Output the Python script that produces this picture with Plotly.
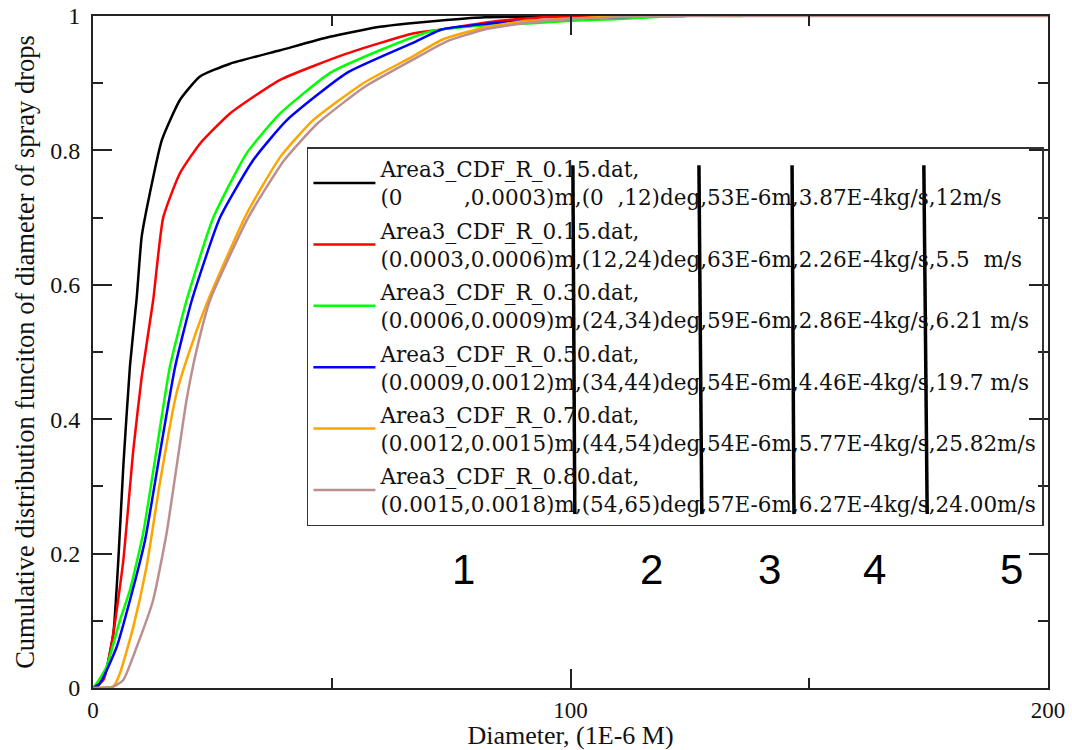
import plotly.graph_objects as go

# Cumulative distribution of spray drop diameter (1E-6 m) for six injection bins
d_black = [0, 1, 2.5, 4.25, 5.3, 6.35, 7.75, 9.15, 10.2, 11.9, 14.4, 18.2, 22.4, 28.7, 39.2, 49.6, 60.1, 66, 74, 82, 90, 100, 111]
f_black = [0, 0.003, 0.02, 0.08, 0.19, 0.33, 0.48, 0.58, 0.672, 0.736, 0.815, 0.875, 0.91, 0.929, 0.949, 0.969, 0.984, 0.989, 0.994, 0.998, 0.999, 1.0, 1.0]

d_red = [0, 2.2, 4.25, 6.35, 8.44, 10.2, 12.6, 14.7, 18.2, 22.4, 28.7, 39.2, 53.1, 67, 73, 82, 90, 100, 105]
f_red = [0, 0.012, 0.081, 0.19, 0.354, 0.463, 0.577, 0.70, 0.766, 0.81, 0.855, 0.905, 0.944, 0.974, 0.98, 0.99, 0.996, 1.0, 1.0]

d_green = [0, 0.77, 2.86, 5.65, 7.75, 10.5, 13.3, 16.1, 19.6, 25.2, 32.2, 39.2, 49.6, 60.1, 70.6, 80, 88.4, 93.6, 100, 108.9, 122, 136]
f_green = [0, 0.007, 0.032, 0.101, 0.146, 0.23, 0.354, 0.478, 0.577, 0.70, 0.796, 0.855, 0.915, 0.949, 0.977, 0.985, 0.988, 0.99, 0.993, 0.995, 1.0, 1.0]

d_blue = [0, 1.47, 4.96, 7.75, 10.9, 14, 17.2, 20.7, 26.6, 33.6, 40.6, 53.1, 67, 73, 82, 92, 105, 118, 124]
f_blue = [0, 0.007, 0.061, 0.131, 0.22, 0.349, 0.478, 0.577, 0.70, 0.786, 0.845, 0.915, 0.96, 0.98, 0.988, 0.993, 0.997, 1.0, 1.0]

d_orange = [0, 4.25, 5.65, 8.44, 11.2, 14, 17.5, 20.3, 24.1, 32.2, 39.2, 46.1, 56.6, 67, 73.2, 82, 91, 100, 111, 121]
f_orange = [0, 0.002, 0.022, 0.091, 0.18, 0.305, 0.439, 0.503, 0.577, 0.706, 0.79, 0.845, 0.90, 0.94, 0.965, 0.983, 0.993, 0.996, 1.0, 1.0]

d_brown = [0, 4.25, 6.35, 9.15, 12.6, 15.4, 17.5, 19.6, 21.7, 24.5, 32.5, 40, 47, 57, 67, 74, 82, 91, 100, 110, 125, 200]
f_brown = [0, 0.002, 0.012, 0.061, 0.131, 0.23, 0.329, 0.429, 0.503, 0.577, 0.70, 0.785, 0.84, 0.895, 0.935, 0.962, 0.98, 0.99, 0.995, 0.998, 1.0, 1.0]

NB = "\u00a0"
series_names = [
    "Area3_CDF_R_0.15.dat,<br>(0" + NB * 9 + ",0.0003)m,(0" + NB * 2 + ",12)deg,53E-6m,3.87E-4kg/s,12m/s",
    "Area3_CDF_R_0.15.dat,<br>(0.0003,0.0006)m,(12,24)deg,63E-6m,2.26E-4kg/s,5.5" + NB * 2 + "m/s",
    "Area3_CDF_R_0.30.dat,<br>(0.0006,0.0009)m,(24,34)deg,59E-6m,2.86E-4kg/s,6.21" + NB + "m/s",
    "Area3_CDF_R_0.50.dat,<br>(0.0009,0.0012)m,(34,44)deg,54E-6m,4.46E-4kg/s,19.7" + NB + "m/s",
    "Area3_CDF_R_0.70.dat,<br>(0.0012,0.0015)m,(44,54)deg,54E-6m,5.77E-4kg/s,25.82m/s",
    "Area3_CDF_R_0.80.dat,<br>(0.0015,0.0018)m,(54,65)deg,57E-6m,6.27E-4kg/s,24.00m/s",
]
series_colors = ["#000000", "#ff0000", "#00ff00", "#0000ff", "#ffa500", "#bc8f8f"]
series_x = [d_black, d_red, d_green, d_blue, d_orange, d_brown]
series_y = [f_black, f_red, f_green, f_blue, f_orange, f_brown]

# Column separators drawn across the legend, and the column numbers below it
sep_x_top = [100.5, 126.9, 146.4, 174.0]
sep_x_bottom = [100.9, 127.5, 146.8, 174.7]
sep_y = [0.259, 0.778]
column_labels = ["1", "2", "3", "4", "5"]
column_label_x = [77.5, 116.9, 141.6, 163.6, 192.3]
column_label_y = 0.177

fig = go.Figure()
for i, (xs, ys, name, color) in enumerate(zip(series_x, series_y, series_names, series_colors)):
    fig.add_trace(go.Scatter(x=xs, y=ys, mode="lines", name=name, legendgroup=f"g{i}",
                             line=dict(color=color, width=2.5, shape="spline", smoothing=0.5)))

for xt, xb in zip(sep_x_top, sep_x_bottom):
    fig.add_shape(type="line", xref="x", yref="y", x0=xb, y0=sep_y[0], x1=xt, y1=sep_y[1],
                  line=dict(color="black", width=3.5), layer="above")

for lab, xv in zip(column_labels, column_label_x):
    fig.add_annotation(x=xv, y=column_label_y, xref="x", yref="y", text=lab, showarrow=False,
                       font=dict(family="Liberation Sans", size=42, color="black"))

axis_common = dict(
    showline=True, linecolor="#222", linewidth=2, mirror="allticks",
    ticks="inside", ticklen=19, tickwidth=1.5, tickcolor="#222",
    showgrid=False, zeroline=False,
)

fig.update_xaxes(range=[0, 200], tick0=0, dtick=100,
                 minor=dict(dtick=50, ticks="inside", ticklen=10, tickwidth=1.5, tickcolor="#222", showgrid=False),
                 tickfont=dict(family="Liberation Serif", size=23, color="#111"),
                 title=dict(text="Diameter, (1E-6 M)", font=dict(family="Liberation Serif", size=26, color="#111"),
                            standoff=0),
                 **axis_common)
fig.update_yaxes(range=[0, 1], tick0=0, dtick=0.2,
                 minor=dict(dtick=0.1, ticks="inside", ticklen=10, tickwidth=1.5, tickcolor="#222", showgrid=False),
                 tickfont=dict(family="Liberation Serif", size=24, color="#111"),
                 title=dict(text="Cumulative distribution funciton of diameter of spray drops",
                            font=dict(family="Liberation Serif", size=26.5, color="#111"), standoff=8),
                 ticklabelstandoff=6,
                 **axis_common)

fig.update_layout(
    width=1072, height=750,
    margin=dict(l=93, r=24, t=16, b=62, autoexpand=False),
    paper_bgcolor="white", plot_bgcolor="white",
    font=dict(family="Liberation Serif", color="#111"),
    showlegend=True,
    legend=dict(x=0.224, y=0.805, xanchor="left", yanchor="top",
                bgcolor="rgba(0,0,0,0)", bordercolor="#333", borderwidth=1.5,
                font=dict(family="DejaVu Serif, DejaVu Sans", size=21.5, color="#111"),
                itemwidth=62, tracegroupgap=2.5),
)

fig.write_html("out.html")
